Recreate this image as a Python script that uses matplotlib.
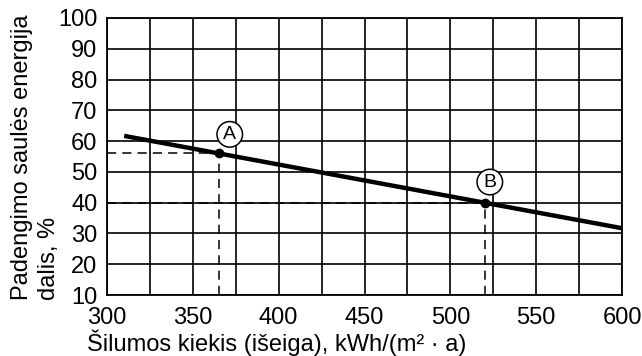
import matplotlib
matplotlib.use("Agg")
import matplotlib.pyplot as plt

plt.rcParams['font.family'] = ['Liberation Sans', 'DejaVu Sans']

line_x = [310, 600]
line_y = [61.7, 31.7]
point_labels = ["A", "B"]
point_x = [365, 520]
point_y = [56, 40]
label_x = [371.5, 523]
label_y = [62.2, 46.7]
x_ticks = [300, 350, 400, 450, 500, 550, 600]
y_ticks = [10, 20, 30, 40, 50, 60, 70, 80, 90, 100]
x_grid = list(range(300, 601, 25))

W, H = 642, 356
fig = plt.figure(figsize=(W/100, H/100), dpi=100)
ax = fig.add_axes([107/W, 1-295/H, 515/W, 277/H])
ax.set_xlim(300, 600)
ax.set_ylim(10, 100)
ax.set_xticks(x_ticks)
ax.set_yticks(y_ticks)
ax.set_xticks(x_grid, minor=True)
ax.tick_params(which='both', length=0, labelsize=17)
ax.tick_params(axis='y', pad=7)
ax.tick_params(axis='x', pad=9)
ax.grid(True, which='both', color='black', linewidth=1.2)
for s in ax.spines.values():
    s.set_linewidth(1.3)

for px, py in zip(point_x, point_y):
    ax.plot([300, px], [py, py], color='black', lw=1.1, ls=(0, (6, 4)), zorder=3)
    ax.plot([px, px], [10, py], color='black', lw=1.1, ls=(0, (6, 4)), zorder=3)

ax.plot(line_x, line_y, color='black', lw=3.2, solid_capstyle='butt', zorder=4)
ax.plot(point_x, point_y, 'o', color='black', ms=6, zorder=5)
for lab, lx, ly in zip(point_labels, label_x, label_y):
    ax.text(lx, ly, lab, fontsize=14, ha='center', va='center', zorder=6,
            bbox=dict(boxstyle='circle,pad=0.22', fc='white', ec='black', lw=1.1))

fig.text(87/W, 1-351/H, "Šilumos kiekis (išeiga), kWh/(m² · a)", fontsize=17,
         ha='left', va='baseline')
fig.text(22/W, 1-300/H, "Padengimo saulės energija", fontsize=17,
         rotation=90, ha='center', va='bottom')
fig.text(49/W, 1-300/H, "dalis, %", fontsize=17,
         rotation=90, ha='center', va='bottom')

fig.savefig("out.png", dpi=100)
